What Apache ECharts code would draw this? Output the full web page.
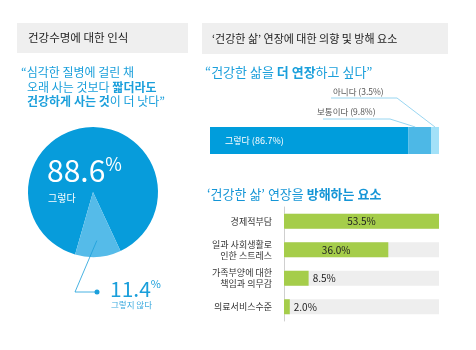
<!DOCTYPE html>
<html><head><meta charset="utf-8">
<script src="https://cdn.jsdelivr.net/npm/echarts/dist/echarts.min.js"></script>
<style>html,body{margin:0;padding:0;background:#fff}#c{width:476px;height:350px}</style>
</head><body><div id="c"></div>
<script>
const pieCategories = ['그렇다', '그렇지 않다'];
const pieValues = [88.6, 11.4];
const stackCategories = ['그렇다', '보통이다', '아니다'];
const stackValues = [86.7, 9.8, 3.5];
const barCategories = ['경제적부담', '일과 사회생활로\n인한 스트레스', '가족부양에 대한\n책임과 의무감', '의료서비스수준'];
const barValues = [53.5, 36.0, 8.5, 2.0];

const FONT = '"Noto Sans CJK KR", "Noto Sans", sans-serif';
const BLUE = '#1a9fdb';
const pieColors = ['#079cdb', '#55bbe9'];
const stackColors = ['#009ddc', '#4db8e6', '#a3e1f8'];
const PIE_C = [93, 192], PIE_R = 65, PIE_START = 254;

const chart = echarts.init(document.getElementById('c'));

const stackSeries = stackCategories.map((name, i) => ({
  type: 'bar', name, stack: 'a', xAxisIndex: 0, yAxisIndex: 0, barWidth: 27,
  silent: true,
  itemStyle: { color: stackColors[i] },
  label: i === 0 ? {
    show: true, position: 'insideLeft', distance: 15, color: '#fff',
    fontFamily: FONT, fontSize: 9, formatter: () => `${name} (${stackValues[i]}%)`
  } : { show: false },
  data: [stackValues[i]]
}));

chart.setOption({
  animation: false,
  backgroundColor: '#fff',
  textStyle: { fontFamily: FONT },
  grid: [
    { left: 210, right: 37, top: 127, height: 27 },
    { left: 284, right: 37, top: 207, bottom: 29 }
  ],
  xAxis: [
    { gridIndex: 0, type: 'value', min: 0, max: 100, show: false },
    { gridIndex: 1, type: 'value', min: 0, max: 53.5, show: false }
  ],
  yAxis: [
    { gridIndex: 0, type: 'category', data: [''], show: false },
    { gridIndex: 1, type: 'category', data: barCategories, inverse: true,
      axisLine: { show: true, lineStyle: { color: '#cfcfcf', width: 1 } },
      axisTick: { show: false },
      axisLabel: { fontFamily: FONT, fontSize: 9, color: '#333', margin: 12, lineHeight: 11, align: 'right' } }
  ],
  series: [
    { type: 'pie', center: PIE_C, radius: PIE_R, startAngle: PIE_START, silent: true,
      label: { show: false }, labelLine: { show: false },
      data: pieCategories.map((n, i) => ({ name: n, value: pieValues[i], itemStyle: { color: pieColors[i] } })) },
    ...stackSeries,
    { type: 'bar', xAxisIndex: 1, yAxisIndex: 1, barWidth: 15, silent: true,
      showBackground: true, backgroundStyle: { color: '#eeeeee' },
      itemStyle: { color: '#a5cd4a' },
      data: barValues.map(v => ({ value: v, label: {
        show: true, position: v > 20 ? 'inside' : 'right', distance: 4,
        color: '#222', fontFamily: FONT, fontSize: 10, formatter: v.toFixed(1) + '%' } }))
    }
  ]
});

// annotation positions computed from the scales
const segTop = (v) => {
  const p = chart.convertToPixel({ gridIndex: 0 }, [v, 0]);
  return [p[0], p[1] - 13.5];
};
const t2 = segTop(stackValues[0] + stackValues[1] * 0.3);
const t3 = segTop(stackValues[0] + stackValues[1] + stackValues[2] * 0.5);

const midAng = (PIE_START - pieValues[0] / 100 * 360 - pieValues[1] / 100 * 180) * Math.PI / 180;
const ps = [PIE_C[0] + PIE_R * 0.75 * Math.cos(midAng), PIE_C[1] - PIE_R * 0.75 * Math.sin(midAng)];

const txt = (x, y, text, size, fill, extra) => ({
  type: 'text', x, y, silent: true, z: 100,
  style: Object.assign({ text, fontSize: size, fill, fontFamily: FONT, verticalAlign: 'middle', align: 'left' }, (extra || {}))
});
const rich = (size, fill) => ({
  n: { fontSize: size, fill: fill, fontFamily: FONT },
  b: { fontSize: size, fill: fill, fontFamily: FONT, fontWeight: 'bold' }
});

chart.setOption({
  graphic: [
    { type: 'rect', z: 1, shape: { x: 17, y: 23, width: 171, height: 30 }, style: { fill: '#efefef' }, silent: true },
    { type: 'rect', z: 1, shape: { x: 202, y: 23, width: 246, height: 31 }, style: { fill: '#efefef' }, silent: true },
    txt(28, 38, '건강수명에 대한 인식', 11.5, '#222'),
    txt(212, 39, '‘건강한 삶’ 연장에 대한 의향 및 방해 요소', 11, '#222'),
    txt(21, 72, '“심각한 질병에 걸린 채', 12, BLUE),
    txt(27, 87, '{n|오래 사는 것보다 }{b|짧더라도}', 12, BLUE, { rich: rich(12, BLUE) }),
    txt(27, 101, '{b|건강하게 사는 것}{n|이 더 낫다”}', 12, BLUE, { rich: rich(12, BLUE) }),
    txt(205, 72, '{n|“건강한 삶을 }{b|더 연장}{n|하고 싶다”}', 13, BLUE, { rich: rich(13, BLUE) }),
    txt(207, 194, '{n|‘건강한 삶’ 연장을 }{b|방해하는 요소}', 13, BLUE, { rich: rich(13, '#1495d6') }),
    // pie labels
    txt(47, 171, '{big|' + pieValues[0] + '}{pct|%}', 30, '#fff', { rich: {
      big: { fontSize: 30, fill: '#fff', fontFamily: FONT, lineHeight: 32 },
      pct: { fontSize: 18, fill: '#fff', fontFamily: FONT, verticalAlign: 'top', lineHeight: 32 } } }),
    txt(48, 198, pieCategories[0], 10, '#fff'),
    { type: 'polyline', z: 100, silent: true, shape: { points: [ps, [75, 292], [97, 292]] }, style: { stroke: BLUE, lineWidth: 0.8, fill: null } },
    { type: 'circle', z: 100, silent: true, shape: { cx: 97, cy: 292, r: 2.5 }, style: { fill: BLUE } },
    txt(110, 289, '{big|' + pieValues[1] + '}{pct|%}', 21, BLUE, { rich: {
      big: { fontSize: 21, fill: BLUE, fontFamily: FONT, lineHeight: 22 },
      pct: { fontSize: 11, fill: BLUE, fontFamily: FONT, verticalAlign: 'top', lineHeight: 22 } } }),
    txt(111, 305, pieCategories[1], 8.5, '#3aa9de'),
    // stacked bar callouts
    txt(317, 112, `${stackCategories[1]} (${stackValues[1]}%)`, 8.5, '#555'),
    txt(333, 92, `${stackCategories[2]} (${stackValues[2]}%)`, 8.5, '#555'),
    { type: 'polyline', z: 100, silent: true, shape: { points: [[323, 119], [390, 119], t2] }, style: { stroke: '#7fcbed', lineWidth: 0.8, fill: null } },
    { type: 'polyline', z: 100, silent: true, shape: { points: [[331, 98], [397, 98], t3] }, style: { stroke: '#7fcbed', lineWidth: 0.8, fill: null } }
  ]
});
</script></body></html>
